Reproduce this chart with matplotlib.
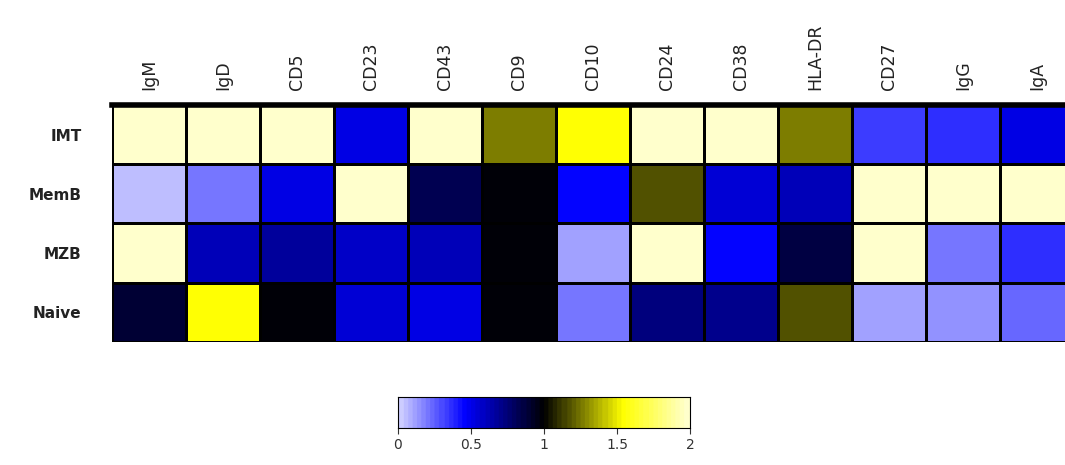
"""Marker expression heatmap, B cell subsets."""
import matplotlib
matplotlib.use("Agg")
import matplotlib.pyplot as plt
import numpy as np
from matplotlib.colors import LinearSegmentedColormap

MARKERS = ["IgM", "IgD", "CD5", "CD23", "CD43", "CD9", "CD10", "CD24",
           "CD38", "HLA-DR", "CD27", "IgG", "IgA"]
SUBSETS = ["IMT", "MemB", "MZB", "Naive"]

IMT = [2.0, 2.0, 2.0, 0.5, 2.0, 1.27, 1.55, 2.0, 2.0, 1.27, 0.32, 0.36, 0.52]
MEMB = [0.05, 0.19, 0.5, 2.0, 0.83, 0.99, 0.45, 1.17, 0.56, 0.62, 2.0, 2.0, 2.0]
MZB = [2.0, 0.6, 0.67, 0.58, 0.6, 0.98, 0.12, 2.0, 0.45, 0.85, 2.0, 0.19, 0.36]
NAIVE = [0.9, 1.55, 0.98, 0.56, 0.5, 0.98, 0.2, 0.72, 0.7, 1.17, 0.1, 0.15, 0.24]

TICKS = [0, 0.5, 1, 1.5, 2]

cmap = LinearSegmentedColormap.from_list(
    "byb", [(0.0, (0.8, 0.8, 1.0)), (0.225, (0.0, 0.0, 1.0)),
            (0.5, (0.0, 0.0, 0.0)), (0.775, (1.0, 1.0, 0.0)),
            (1.0, (1.0, 1.0, 0.8))], N=64)

data = np.array([IMT, MEMB, MZB, NAIVE])

fig = plt.figure(figsize=(10.65, 4.65), dpi=100)
ax = fig.add_axes([112 / 1065, 1 - 342 / 465, 962 / 1065, 237 / 465])
ax.pcolormesh(data, cmap=cmap, vmin=0, vmax=2, edgecolors="black",
              linewidth=2)
ax.set_xlim(0, len(MARKERS))
ax.set_ylim(len(SUBSETS), 0)
for s in ["left", "right", "bottom"]:
    ax.spines[s].set_visible(False)
ax.spines["top"].set_linewidth(4)
ax.xaxis.tick_top()
ax.set_xticks(np.arange(len(MARKERS)) + 0.5)
ax.set_xticklabels(MARKERS, rotation=90, fontsize=12.5, fontweight="medium",
                   color="#222222")
ax.set_yticks(np.arange(len(SUBSETS)) + 0.5)
ax.set_yticklabels(SUBSETS, fontsize=11, fontweight="bold", color="#222222")
ax.tick_params(length=0, pad=11)
ax.tick_params(axis="y", pad=22)

cax = fig.add_axes([398 / 1065, 1 - 428 / 465, 292 / 1065, 31 / 465])
grad = np.linspace(0, 2, 200).reshape(1, -1)
cax.imshow(grad, cmap=cmap, vmin=0, vmax=2, aspect="auto",
           extent=[0, 2, 0, 1])
cax.set_yticks([])
cax.set_xticks(TICKS)
cax.set_xticklabels(["0", "0.5", "1", "1.5", "2"], fontsize=10,
                    color="#333333")
cax.tick_params(axis="x", length=4, color="#333333")

fig.savefig("out.png", dpi=100)
